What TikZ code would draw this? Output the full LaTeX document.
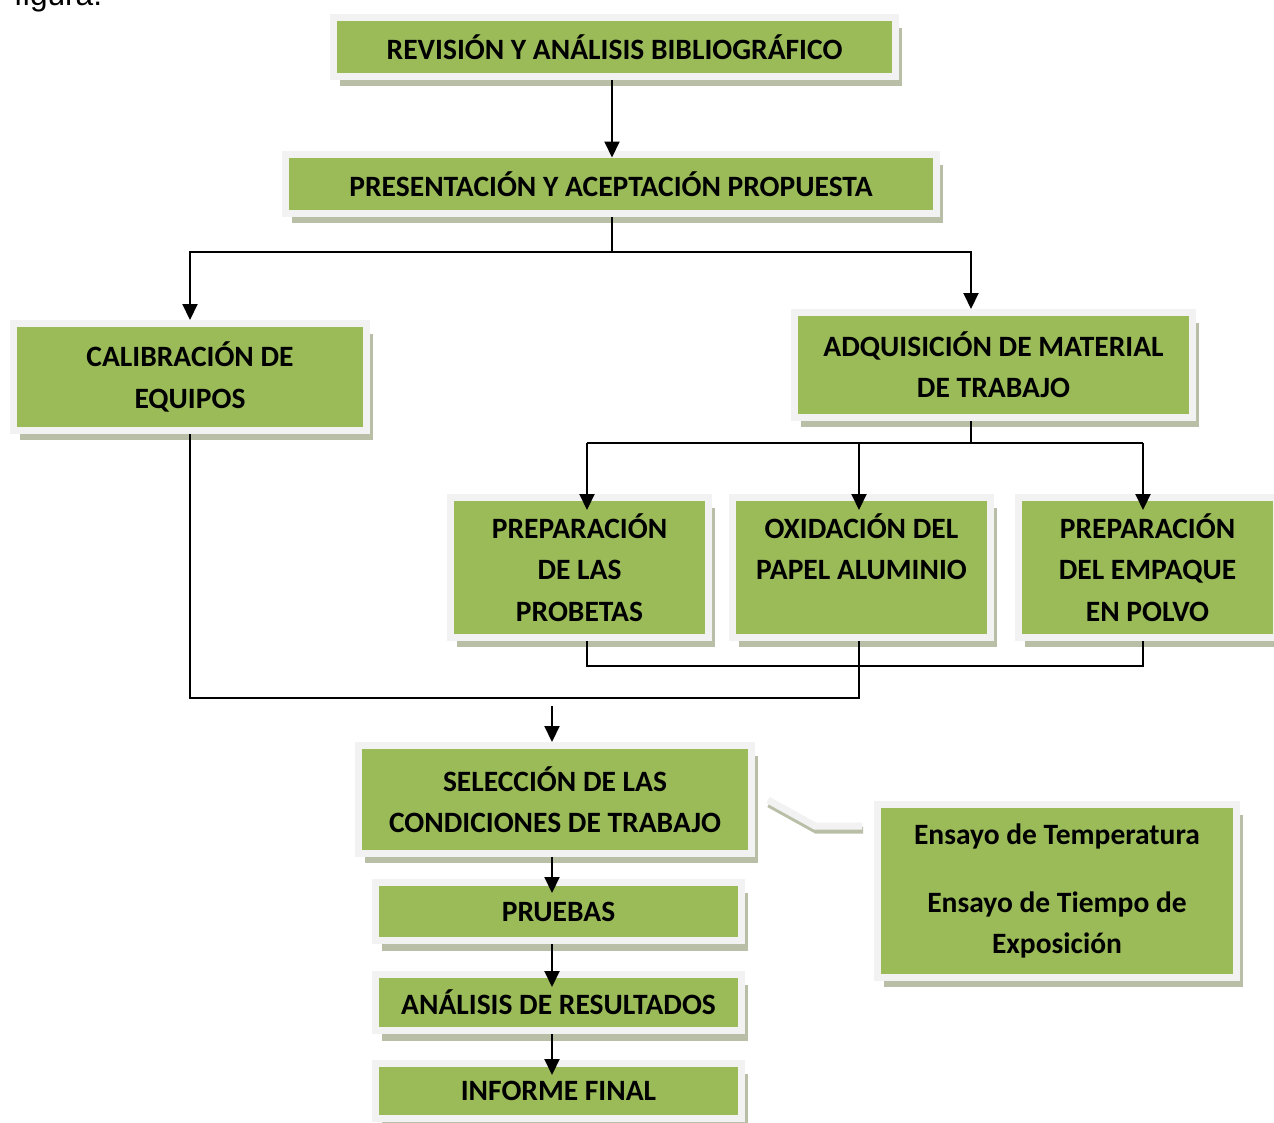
\documentclass[tikz,border=0pt]{standalone}
\usepackage{fontspec}
\setmainfont{Carlito}
\newfontfamily\figfont{Liberation Sans}
\usetikzlibrary{arrows.meta,shadows}

\definecolor{verde}{HTML}{9BBB59}
\definecolor{marco}{HTML}{F2F2F2}
\definecolor{sombra}{HTML}{B9BFA7}

\tikzset{
  etapa/.style={rectangle, fill=verde, draw=marco, line width=0.14cm, inner sep=0pt,
    align=center, font=\fontsize{16.8}{23.5}\selectfont\bfseries,
    general shadow={shadow xshift=0.13cm, shadow yshift=-0.2cm, fill=sombra}},
  linea/.style={line width=0.04cm},
  flecha/.style={linea, -{Triangle[width=0.3cm,length=0.32cm]}},
}

\begin{document}
\begin{tikzpicture}[x=0.02cm, y=-0.02cm]
  \useasboundingbox (0,0) rectangle (1274,1122);
  \node [anchor=base west, font=\figfont\fontsize{18}{22}\selectfont] (fig) at (8,6) {figura.};

  % etapas
  \node [etapa, minimum width=11.24cm, minimum height=1.18cm] (rev) at (614.5,47) {REVISIÓN Y ANÁLISIS BIBLIOGRÁFICO};
  \node [etapa, minimum width=13.02cm, minimum height=1.18cm] (pres) at (611,184) {PRESENTACIÓN Y ACEPTACIÓN PROPUESTA};
  \node [etapa, minimum width=7.06cm, minimum height=2.14cm] (cal) at (190,377) {CALIBRACIÓN DE\\EQUIPOS};
  \node [etapa, minimum width=7.96cm, minimum height=2.10cm] (adq) at (993.5,365) {ADQUISICIÓN DE MATERIAL\\DE TRABAJO};
  \node [etapa, minimum width=5.16cm, minimum height=2.80cm] (prob) at (579.5,567.5) {PREPARACIÓN\\DE LAS\\PROBETAS};
  \node [etapa, minimum width=5.16cm, minimum height=2.80cm] (oxi) at (861.5,567.5) {OXIDACIÓN DEL\\PAPEL ALUMINIO\\\vphantom{P}};
  \node [etapa, minimum width=5.16cm, minimum height=2.80cm] (emp) at (1147.5,567.5) {PREPARACIÓN\\DEL EMPAQUE\\EN POLVO};
  \node [etapa, minimum width=7.86cm, minimum height=2.16cm] (sel) at (555,799.5) {SELECCIÓN DE LAS\\CONDICIONES DE TRABAJO};
  \node [etapa, minimum width=7.32cm, minimum height=1.16cm] (pru) at (558.5,911.5) {PRUEBAS};
  \node [etapa, minimum width=7.32cm, minimum height=1.12cm] (ana) at (558.5,1002.5) {ANÁLISIS DE RESULTADOS};
  \node [etapa, minimum width=7.32cm, minimum height=1.10cm] (inf) at (558.5,1091) {INFORME FINAL};
  \node [etapa, minimum width=7.18cm, minimum height=3.46cm] (ens) at (1057,891) {Ensayo de Temperatura\\[15pt]Ensayo de Tiempo de\\Exposición};

  % puntos de las ramas
  \coordinate (r1) at (612,252);
  \coordinate (r2) at (971,252);
  \coordinate (b1) at (971,443);
  \coordinate (b2) at (587,443);
  \coordinate (b3) at (859,443);
  \coordinate (b4) at (1143,443);
  \coordinate (u1) at (587,666);
  \coordinate (u2) at (1143,666);
  \coordinate (u3) at (859,698);
  \coordinate (u4) at (190,698);
  \coordinate (s1) at (552,706);

  % conectores
  \draw [flecha, shorten >=-0.13cm] (rev.south -| r1) -- (pres.north -| r1);
  \draw [linea] (pres.south -| r1) -- (r1);
  \draw [flecha] (r1) -| (cal.north);
  \draw [flecha] (r1) -- (r2) -- (adq.north -| r2);
  \draw [linea] (adq.south -| b1) -- (b1);
  \draw [linea] (b2) -- (b4);
  \draw [flecha, shorten >=-0.32cm] (b2) -- (prob.north -| b2);
  \draw [flecha, shorten >=-0.32cm] (b3) -- (oxi.north -| b3);
  \draw [flecha, shorten >=-0.32cm] (b4) -- (emp.north -| b4);
  \draw [linea] (prob.south -| u1) -- (u1) -- (u2) -- (emp.south -| u2);
  \draw [linea] (oxi.south -| u3) -- (u3) -- (u4) -- (cal.south);
  \draw [flecha] (s1) -- (sel.north -| s1);
  \draw [flecha, shorten >=-0.28cm] (sel.south -| s1) -- (pru.north -| s1);
  \draw [flecha, shorten >=-0.32cm] (pru.south -| s1) -- (ana.north -| s1);
  \draw [flecha, shorten >=-0.30cm] (ana.south -| s1) -- (inf.north -| s1);

  % llamada
  \coordinate (k1) at (768,800);
  \coordinate (k2) at (815,826);
  \coordinate (k3) at (862,826);
  \draw [sombra, line width=0.14cm] ([shift={(1,4)}]k1) -- ([shift={(1,4)}]k2) -- ([shift={(1,4)}]k3);
  \draw [marco, line width=0.14cm] (k1) -- (k2) -- (k3);
\end{tikzpicture}
\end{document}
